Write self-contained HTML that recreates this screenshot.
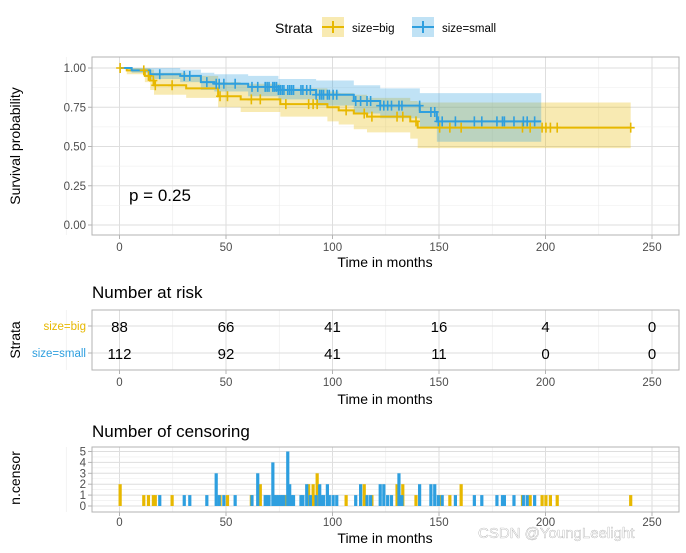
<!DOCTYPE html>
<html><head><meta charset="utf-8"><style>
body{margin:0;background:#fff;}
svg{display:block;font-family:"Liberation Sans",Arial,sans-serif;}
</style></head><body>
<svg id="chart" width="686" height="553" viewBox="0 0 686 553">
<rect width="686" height="553" fill="#fff"/>
<g id="legend">
<text x="275" y="33" font-size="14">Strata</text>
<g>
<rect x="322" y="17" width="22" height="20" fill="#E7B800" fill-opacity="0.3"/>
<line x1="322" y1="27" x2="344" y2="27" stroke="#E7B800" stroke-width="2"/>
<line x1="333" y1="21" x2="333" y2="33" stroke="#E7B800" stroke-width="2"/>
<text x="352" y="32" font-size="11.5">size=big</text></g>
<g>
<rect x="412" y="17" width="22" height="20" fill="#2E9FDF" fill-opacity="0.3"/>
<line x1="412" y1="27" x2="434" y2="27" stroke="#2E9FDF" stroke-width="2"/>
<line x1="423" y1="21" x2="423" y2="33" stroke="#2E9FDF" stroke-width="2"/>
<text x="442" y="32" font-size="11.5">size=small</text></g>
</g>
<g id="main"></g>
<g id="risk"></g>
<g id="cens"></g>
<text x="478" y="538" font-size="15" fill="#fff" stroke="#999" stroke-width="0.3">CSDN @YoungLeelight</text>
</svg>
<script>
// ---- data ----
const bigTimes = [0, 3.4, 11.9, 14.4, 16.2, 31.3, 46.3, 56.9, 75.5, 97.6, 102.9, 110, 116.2, 136.5, 140];
const bigSurv  = [1, 0.985, 0.95, 0.92, 0.89, 0.87, 0.82, 0.80, 0.77, 0.75, 0.73, 0.71, 0.69, 0.66, 0.62];
const bigUpper = [1, 1, 1, 0.99, 0.97, 0.95, 0.91, 0.90, 0.87, 0.85, 0.84, 0.83, 0.81, 0.79, 0.78];
const bigLower = [1, 0.96, 0.91, 0.86, 0.83, 0.81, 0.75, 0.72, 0.69, 0.66, 0.64, 0.61, 0.59, 0.55, 0.49];
const bigEnd = 240;
const smallTimes = [0, 5.7, 14.4, 28.5, 38.2, 44.5, 60.4, 74.6, 92.3, 110, 122.4, 141, 149];
const smallSurv  = [1, 0.985, 0.96, 0.95, 0.91, 0.90, 0.88, 0.86, 0.83, 0.79, 0.76, 0.72, 0.66];
const smallUpper = [1, 1, 1, 0.99, 0.97, 0.96, 0.95, 0.93, 0.92, 0.89, 0.87, 0.84, 0.84];
const smallLower = [1, 0.97, 0.93, 0.91, 0.86, 0.85, 0.82, 0.80, 0.76, 0.71, 0.68, 0.62, 0.53];
const smallEnd = 198;
const bigCensT = [0.3,11.4,13.6,15.9,16.8,24.7,47.2,50.7,61.9,66.1,78.1,88.8,90.9,92.8,106.4,114.9,118.5,130.3,133,139.2,150.3,155.1,160.4,189.2,192.8,198.4,200.2,202.3,205.5,240];
const bigCensN = [2,1,1,1,1,1,1,1,1,2,1,2,2,3,1,2,1,2,2,1,1,1,2,1,1,1,1,1,1,1];
const smallCensT = [18.9,30.4,33,41,45.4,46.8,49,54.3,62.2,64.9,68.4,69.3,70.2,72,72.8,73.7,74.6,75.5,76.4,77.2,79,79.9,80.8,81.7,85.2,86.1,87.9,89.6,92.3,94,94.9,95.8,97.6,98.5,100.3,102,110.9,113.2,116.2,117.9,122.4,124.1,125.9,127.7,131.2,132.6,140.9,146.2,148,149.7,151.5,157.7,166.6,170.1,177.2,179.8,180.7,185.2,189.6,191.4,194.9];
const smallCensN = [1,1,1,1,3,1,1,1,1,3,1,1,1,4,1,1,1,1,1,1,5,2,1,1,1,1,2,1,1,2,1,1,2,1,1,1,1,2,1,1,2,2,1,1,3,1,2,2,2,1,1,1,1,1,1,1,1,1,1,1,1];
const riskTimes = [0,50,100,150,200,250];
const riskBig = [88,66,41,16,4,0];
const riskSmall = [112,92,41,11,0,0];
const xTicks = [0,50,100,150,200,250];
const yTicks = [0,0.25,0.5,0.75,1];
const yTickLabels = ["0.00","0.25","0.50","0.75","1.00"];
const censTicks = [0,1,2,3,4,5];

const NS="http://www.w3.org/2000/svg";
const YEL="#E7B800", BLU="#2E9FDF";
function mk(p,tag,attrs){const e=document.createElementNS(NS,tag);for(const k in attrs)e.setAttribute(k,attrs[k]);p.appendChild(e);return e;}
const X=t=>119.5+t*2.13;
const L=92,R=679;
const Ym=s=>225-s*157;
function xAxis(g,top,bot,labY,titleY){
  xTicks.forEach(t=>{const l=mk(g,'line',{x1:X(t),x2:X(t),y1:bot,y2:bot+4,stroke:'#b3b3b3'});
    const tx=mk(g,'text',{x:X(t),y:labY,'font-size':11.5,fill:'#4d4d4d','text-anchor':'middle'});tx.textContent=t;
    
    });
  const tt=mk(g,'text',{x:385,y:titleY,'font-size':14,'text-anchor':'middle'});tt.textContent='Time in months';
  
  
}
function vgrid(g,top,bot){
  xTicks.forEach((t,i)=>{mk(g,'line',{x1:X(t),x2:X(t),y1:top,y2:bot,stroke:'#dedede','stroke-width':1});
    if(i<xTicks.length-1)mk(g,'line',{x1:X(t+25),x2:X(t+25),y1:top,y2:bot,stroke:'#ececec','stroke-width':0.6});});
  mk(g,'line',{x1:X(-25),x2:X(-25),y1:top,y2:bot,stroke:'#ececec','stroke-width':0.6});
}
function stepPath(ts,vs,end,Yf){let d=`M${X(ts[0])},${Yf(vs[0])}`;for(let i=1;i<ts.length;i++){d+=`H${X(ts[i])}V${Yf(vs[i])}`;}d+=`H${X(end)}`;return d;}
function bandPath(ts,up,lo,end,Yf){let d=`M${X(ts[0])},${Yf(up[0])}`;for(let i=1;i<ts.length;i++)d+=`H${X(ts[i])}V${Yf(up[i])}`;d+=`H${X(end)}V${Yf(lo[lo.length-1])}`;for(let i=ts.length-1;i>=1;i--)d+=`H${X(ts[i])}V${Yf(lo[i-1])}`;d+=`H${X(ts[0])}Z`;return d;}
function survAt(ts,vs,t){let s=vs[0];for(let i=0;i<ts.length;i++)if(ts[i]<=t)s=vs[i];return s;}

// main plot
const g=document.getElementById('main');
vgrid(g,57,235);
yTicks.forEach((v,i)=>{mk(g,'line',{x1:L,x2:R,y1:Ym(v),y2:Ym(v),stroke:'#dedede'});
  if(i<yTicks.length-1)mk(g,'line',{x1:L,x2:R,y1:Ym(v+0.125),y2:Ym(v+0.125),stroke:'#ececec','stroke-width':0.6});
  mk(g,'line',{x1:L-4,x2:L,y1:Ym(v),y2:Ym(v),stroke:'#b3b3b3'});
  const t=mk(g,'text',{x:86,y:Ym(v)+4,'font-size':11.5,fill:'#4d4d4d','text-anchor':'end'});t.textContent=yTickLabels[i];
  
  });
const bb=mk(g,'path',{d:bandPath(bigTimes,bigUpper,bigLower,bigEnd,Ym),fill:YEL,'fill-opacity':0.3});


const sb=mk(g,'path',{d:bandPath(smallTimes,smallUpper,smallLower,smallEnd,Ym),fill:BLU,'fill-opacity':0.3});


const bl=mk(g,'path',{d:stepPath(bigTimes,bigSurv,bigEnd,Ym),fill:'none',stroke:YEL,'stroke-width':2});


const sl=mk(g,'path',{d:stepPath(smallTimes,smallSurv,smallEnd,Ym),fill:'none',stroke:BLU,'stroke-width':2});


function marks(ts,vs,cs,col){cs.forEach(t=>{const x=X(t),y=Ym(survAt(ts,vs,t));
  const m=mk(g,'path',{d:`M${x-4},${y}H${x+4}M${x},${y-5}V${y+5}`,stroke:col,'stroke-width':1.6});
  
  });}
marks(bigTimes,bigSurv,bigCensT,YEL);
marks(smallTimes,smallSurv,smallCensT,BLU);
mk(g,'rect',{x:L,y:57,width:R-L,height:178,fill:'none',stroke:'#b3b3b3'});
xAxis(g,57,235,251,267);
let t=mk(g,'text',{x:129,y:201,'font-size':17});t.textContent='p = 0.25';


t=mk(g,'text',{transform:'translate(20,146) rotate(-90)','font-size':14,'text-anchor':'middle'});t.textContent='Survival probability';



// risk table
const r=document.getElementById('risk');
t=mk(r,'text',{x:92,y:298,'font-size':17});t.textContent='Number at risk';


vgrid(r,310,370);
const rows=[{y:326,lab:'size=big',col:YEL,vals:riskBig},{y:353,lab:'size=small',col:BLU,vals:riskSmall}];
rows.forEach(row=>{mk(r,'line',{x1:L,x2:R,y1:row.y,y2:row.y,stroke:'#dedede'});
  mk(r,'line',{x1:L-4,x2:L,y1:row.y,y2:row.y,stroke:'#b3b3b3'});
  const lt=mk(r,'text',{x:86,y:row.y+4,'font-size':11.5,fill:row.col,'text-anchor':'end'});lt.textContent=row.lab;
  
  
  row.vals.forEach((v,i)=>{const tv=mk(r,'text',{x:X(riskTimes[i]),y:row.y+6,'font-size':15,'text-anchor':'middle'});tv.textContent=v;
    
    });});
mk(r,'rect',{x:L,y:310,width:R-L,height:60,fill:'none',stroke:'#b3b3b3'});
xAxis(r,310,370,386,404);
t=mk(r,'text',{transform:'translate(20,340) rotate(-90)','font-size':14,'text-anchor':'middle'});t.textContent='Strata';



// censoring plot
const c=document.getElementById('cens');
t=mk(c,'text',{x:92,y:437,'font-size':17});t.textContent='Number of censoring';


const Yc=n=>506-n*10.9;
vgrid(c,447,512);
censTicks.forEach((n,i)=>{mk(c,'line',{x1:L,x2:R,y1:Yc(n),y2:Yc(n),stroke:'#dedede'});
  if(i<censTicks.length-1)mk(c,'line',{x1:L,x2:R,y1:Yc(n+0.5),y2:Yc(n+0.5),stroke:'#ececec','stroke-width':0.6});
  mk(c,'line',{x1:L-4,x2:L,y1:Yc(n),y2:Yc(n),stroke:'#b3b3b3'});
  const tt=mk(c,'text',{x:86,y:Yc(n)+4,'font-size':11.5,fill:'#4d4d4d','text-anchor':'end'});tt.textContent=n;
  
  });
function bars(ts,ns,col){ts.forEach((tm,i)=>{const b=mk(c,'rect',{x:X(tm)-1.6,y:Yc(ns[i]),width:3.2,height:Yc(0)-Yc(ns[i]),fill:col});
  
  });}
bars(bigCensT,bigCensN,YEL);
bars(smallCensT,smallCensN,BLU);
mk(c,'rect',{x:L,y:447,width:R-L,height:65,fill:'none',stroke:'#b3b3b3'});
xAxis(c,447,512,526,543);
t=mk(c,'text',{transform:'translate(20,478) rotate(-90)','font-size':14,'text-anchor':'middle'});t.textContent='n.censor';


</script>
</body></html>
